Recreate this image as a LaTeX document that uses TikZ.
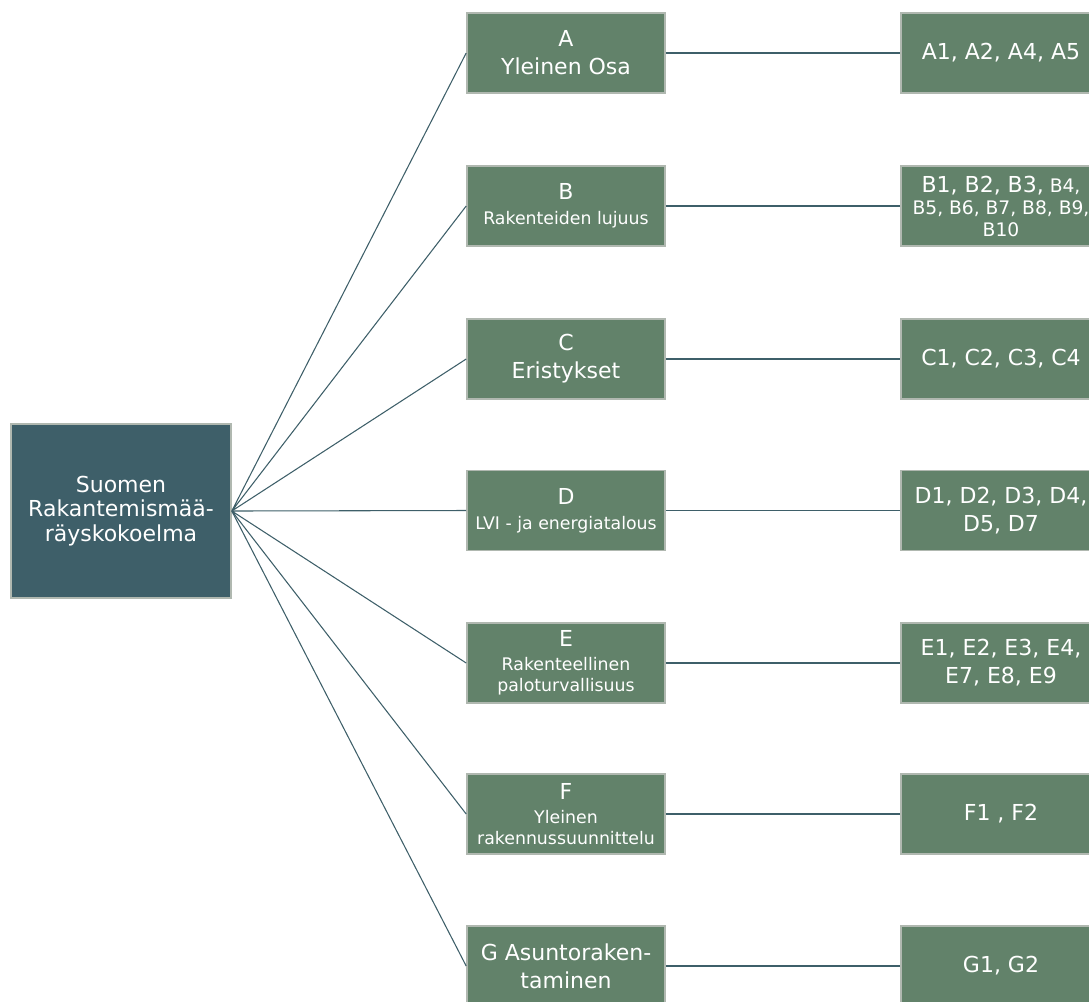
\documentclass[tikz,border=0pt]{standalone}
\usepackage{fontspec}
\setmainfont{DejaVu Sans}
\definecolor{rootfill}{HTML}{3E5F69}
\definecolor{partfill}{HTML}{62826A}
\definecolor{boxline}{HTML}{B0B8B0}
\definecolor{linkline}{HTML}{3E5F69}
\newcommand{\headfont}{\fontsize{16.5}{21}\selectfont}
\newcommand{\subfont}{\fontsize{13}{16}\selectfont}
\newcommand{\codefont}{\fontsize{14}{16.5}\selectfont}
\newcommand{\rootfont}{\fontsize{16.5}{18.5}\selectfont}
\tikzset{
    partbox/.style = {draw = boxline, line width = 1.2pt, fill = partfill, text = white,
        align = center, minimum width = 148.5pt, minimum height = 60pt, inner sep = 0pt,
        font = \headfont},
    codebox/.style = {partbox, minimum width = 150pt},
    rootbox/.style = {draw = boxline, line width = 1.2pt, fill = rootfill, text = white,
        align = center, minimum width = 165pt, minimum height = 130.5pt, inner sep = 0pt,
        font = \rootfont},
    link/.style = {draw = linkline, line width = 0.8pt}
}
\begin{document}
\begin{tikzpicture}[x = 0.75pt, y = -0.75pt]%
    \useasboundingbox (0, 0) rectangle (1089, 1001);
    \clip (0, 0) rectangle (1089, 1001);
    % root
    \node[rootbox] (root) at (121, 511) {Suomen\\Rakantemismää-\\räyskokoelma};
    % parts
    \node[partbox] (A) at (566, 53) {A\\Yleinen Osa};
    \node[partbox, font = \subfont] (B) at (566, 206) {{\headfont B}\\[3pt]Rakenteiden lujuus};
    \node[partbox] (C) at (566, 359) {C\\Eristykset};
    \node[partbox, font = \subfont] (D) at (566, 510.5) {{\headfont D}\\[3pt]LVI - ja energiatalous};
    \node[partbox, font = \subfont] (E) at (566, 663) {{\headfont E}\\[2pt]Rakenteellinen\\paloturvallisuus};
    \node[partbox, font = \subfont] (F) at (566, 814) {{\headfont F}\\[2pt]Yleinen\\rakennussuunnittelu};
    \node[partbox] (G) at (566, 966) {G Asuntoraken-\\taminen};
    % codes
    \node[codebox] (A1) at (1001, 53) {A1, A2, A4, A5};
    \node[codebox, font = \codefont] (B1) at (1001, 206) {{\headfont B1, B2, B3,} B4,\\B5, B6, B7, B8, B9,\\B10};
    \node[codebox] (C1) at (1001, 359) {C1, C2, C3, C4};
    \node[codebox] (D1) at (1001, 510.5) {D1, D2, D3, D4,\\D5, D7};
    \node[codebox] (E1) at (1001, 663) {E1, E2, E3, E4,\\E7, E8, E9};
    \node[codebox] (F1) at (1001, 814) {F1 , F2};
    \node[codebox] (G1) at (1001, 966) {G1, G2};
    % links
    \draw[link] (root.east) -- (A.west) (root.east) -- (B.west) (root.east) -- (C.west);
    \draw[link] (root.east) -- (D.west) (root.east) -- (E.west) (root.east) -- (F.west);
    \draw[link] (root.east) -- (G.west);
    \draw[link] (A) -- (A1) (B) -- (B1) (C) -- (C1) (D) -- (D1);
    \draw[link] (E) -- (E1) (F) -- (F1) (G) -- (G1);
\end{tikzpicture}
\end{document}
